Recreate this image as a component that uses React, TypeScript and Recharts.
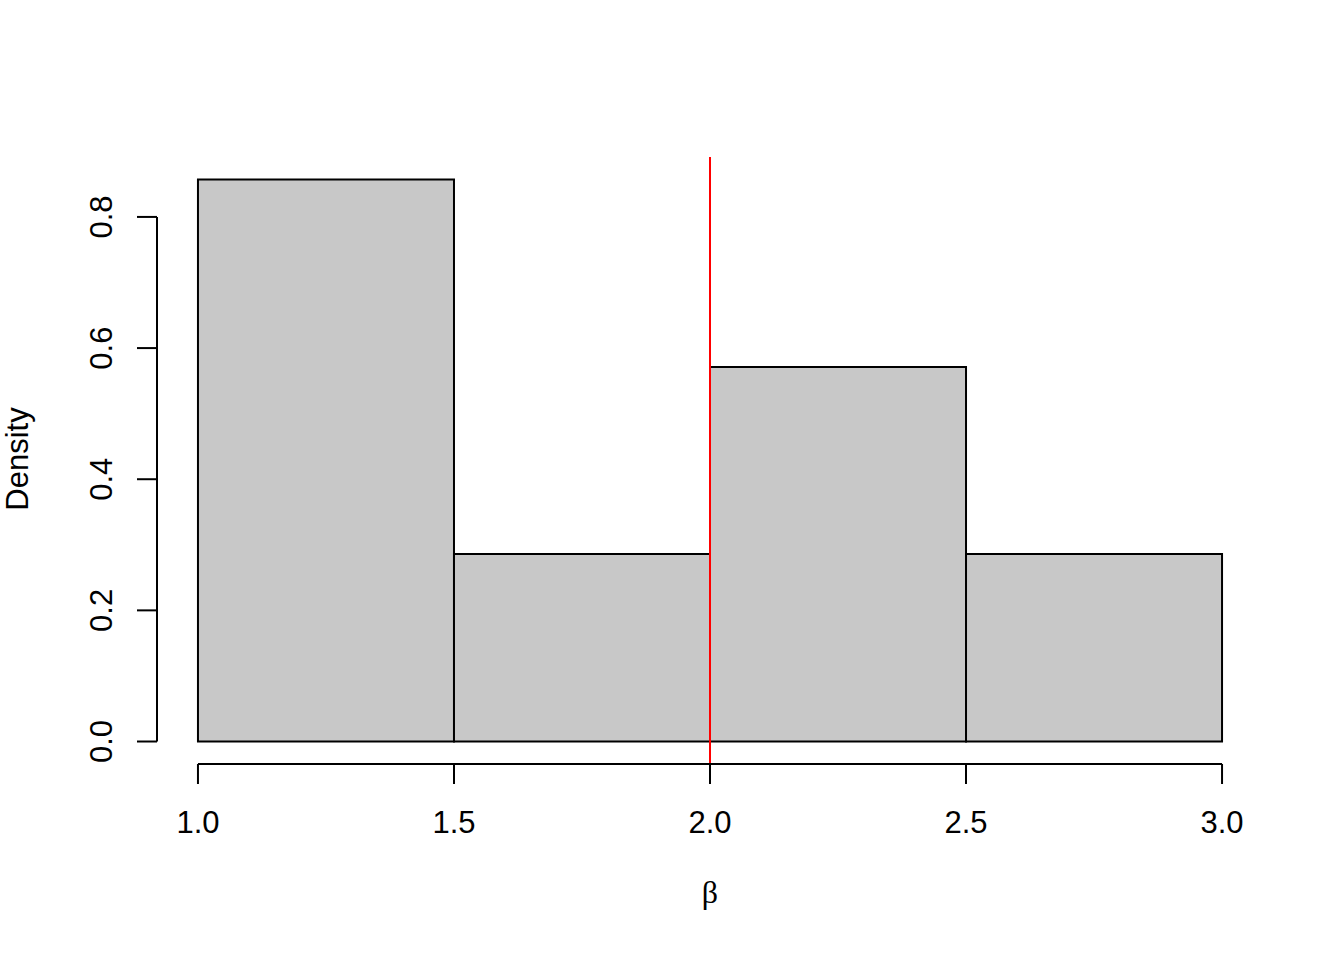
import { ComposedChart, XAxis, YAxis, ReferenceArea, ReferenceLine } from "recharts";

// histogram of beta draws (density scale)
const binEdges = [1.0, 1.5, 2.0, 2.5, 3.0];
const densities = [0.857, 0.286, 0.571, 0.286];
const xTicks = [1.0, 1.5, 2.0, 2.5, 3.0];
const yTicks = [0.0, 0.2, 0.4, 0.6, 0.8];
const trueBeta = 2.0;

const FONT = "'Liberation Sans', Arial, Helvetica, sans-serif";

// R-style 4% padding on both axes
const xDomain = [0.92, 3.08];
const yDomain = [-0.0343, 0.8914];

const XTick = (props: any) => {
  const { x, y, payload } = props;
  return (
    <text x={x} y={y + 49} textAnchor="middle" fontFamily={FONT} fontSize={31} fill="#000">
      {payload.value.toFixed(1)}
    </text>
  );
};

const YTick = (props: any) => {
  const { x, y, payload } = props;
  const tx = x - 25;
  return (
    <text
      x={tx}
      y={y}
      textAnchor="middle"
      transform={`rotate(-90, ${tx}, ${y})`}
      fontFamily={FONT}
      fontSize={31}
      fill="#000"
    >
      {payload.value.toFixed(1)}
    </text>
  );
};

export default function App() {
  const bins = densities.map((d, i) => ({ x0: binEdges[i], x1: binEdges[i + 1], density: d }));
  return (
    <div style={{ position: "absolute", left: 0, top: 0, width: 1344, height: 960, background: "#fff" }}>
      <ComposedChart
        width={1344}
        height={960}
        data={bins}
        margin={{ top: 157, right: 81, bottom: 0, left: 0 }}
      >
        <XAxis
          type="number"
          dataKey="x0"
          domain={xDomain}
          ticks={xTicks}
          allowDataOverflow
          height={196}
          axisLine={false}
          tickLine={{ stroke: "#000", strokeWidth: 2 }}
          tickSize={20}
          tickMargin={0}
          tick={<XTick />}
          interval={0}
          label={{
            content: () => (
              <text x={710} y={903} textAnchor="middle" fontFamily="'Liberation Serif', serif" fontSize={32} fill="#000">
                β
              </text>
            ),
          }}
        />
        <YAxis
          type="number"
          domain={yDomain}
          ticks={yTicks}
          allowDataOverflow
          width={157}
          axisLine={false}
          tickLine={{ stroke: "#000", strokeWidth: 2 }}
          tickSize={20}
          tickMargin={0}
          tick={<YTick />}
          interval={0}
          label={{
            content: () => (
              <text
                x={28}
                y={459}
                textAnchor="middle"
                transform="rotate(-90, 28, 459)"
                fontFamily={FONT}
                fontSize={31}
                fill="#000"
              >
                Density
              </text>
            ),
          }}
        />
        {bins.map((b) => (
          <ReferenceArea
            key={b.x0}
            x1={b.x0}
            x2={b.x1}
            y1={0}
            y2={b.density}
            fill="#c8c8c8"
            fillOpacity={1}
            stroke="#000"
            strokeWidth={2}
            ifOverflow="visible"
          />
        ))}
        <ReferenceLine x={trueBeta} stroke="#ff0000" strokeWidth={2} ifOverflow="visible" />
        {/* axis lines only span first to last tick, like base R */}
        <ReferenceLine
          segment={[
            { x: xTicks[0], y: yDomain[0] },
            { x: xTicks[xTicks.length - 1], y: yDomain[0] },
          ]}
          stroke="#000"
          strokeWidth={2}
          ifOverflow="visible"
        />
        <ReferenceLine
          segment={[
            { x: xDomain[0], y: yTicks[0] },
            { x: xDomain[0], y: yTicks[yTicks.length - 1] },
          ]}
          stroke="#000"
          strokeWidth={2}
          ifOverflow="visible"
        />
      </ComposedChart>
    </div>
  );
}
